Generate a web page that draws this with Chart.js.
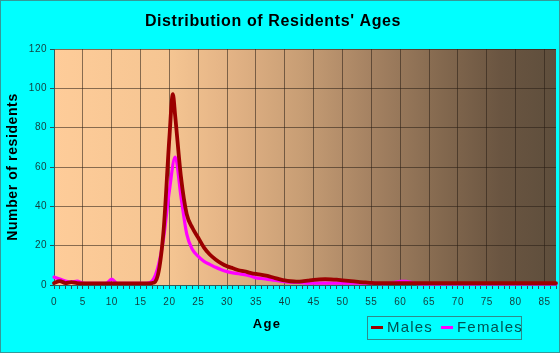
<!DOCTYPE html>
<html>
<head>
<meta charset="utf-8">
<script src="https://cdn.jsdelivr.net/npm/chart.js@4.4.1/dist/chart.umd.min.js"></script>
<style>
  html, body { margin: 0; padding: 0; background: #00ffff; }
  #c { display: block; }
</style>
</head>
<body>
<canvas id="c" width="560" height="353"></canvas>
<script>
// ages (male peak sits between 20 and 21)
const maleAges = [0, 1, 2, 3, 4, 5, 6, 7, 8, 9, 10, 11, 12, 13, 14, 15, 16, 17, 18, 19, 20, 20.6, 21, 22, 23, 24, 25, 26, 27, 28, 29,
  30, 31, 32, 33, 34, 35, 36, 37, 38, 39, 40, 41, 42, 43, 44, 45, 46, 47, 48, 49, 50, 51, 52, 53, 54, 55, 56, 57, 58, 59,
  60, 61, 62, 63, 64, 65, 66, 67, 68, 69, 70, 71, 72, 73, 74, 75, 76, 77, 78, 79, 80, 81, 82, 83, 84, 85, 86, 87];
const maleCounts = [1, 2, 1, 1.5, 1, 0.8, 0.8, 0.8, 0.8, 0.8, 0.8, 0.8, 0.8, 0.8, 0.8, 0.8, 0.8, 1, 5, 28, 75, 97, 86, 55, 36, 29, 24, 19, 15.5, 13, 11,
  9.5, 8.5, 7.5, 7, 6.2, 5.6, 5.2, 4.6, 3.8, 3, 2.3, 1.9, 1.7, 1.8, 2.2, 2.6, 2.9, 3, 2.9, 2.7, 2.4, 2.1, 1.8, 1.5, 1.3, 1.1, 1, 1, 1, 1,
  1, 1, 1, 1, 1, 1, 1, 1, 1, 1, 1, 1, 1, 1, 1, 1, 1, 1, 1, 1, 1, 1, 1, 1, 1, 1, 1, 1];

const femaleAges = [0, 1, 2, 3, 4, 5, 6, 7, 8, 9, 10, 11, 12, 13, 14, 15, 16, 17, 18, 19, 20, 21, 22, 23, 24, 25, 26, 27, 28, 29,
  30, 31, 32, 33, 34, 35, 36, 37, 38, 39, 40, 41, 42, 43, 44, 45, 46, 47, 48, 49, 50, 51, 52, 53, 54, 55, 56, 57, 58, 59,
  60, 61, 62, 63, 64, 65, 66, 67, 68, 69, 70, 71, 72, 73, 74, 75, 76, 77, 78, 79, 80, 81, 82, 83, 84, 85, 86, 87];
const femaleCounts = [4, 3, 2, 1.5, 2, 1, 0.8, 0.8, 0.8, 0.8, 3, 0.8, 0.8, 0.8, 0.8, 0.8, 0.8, 2, 9, 24, 48, 65, 45, 26, 18, 14.5, 12, 10.5, 9, 7.8,
  6.8, 6.2, 5.7, 5.3, 4.6, 3.6, 3.3, 2.9, 2.5, 2.1, 1.7, 1.4, 1.3, 1.2, 1, 1, 1, 1, 1, 1, 1, 1, 1, 1, 1, 1, 0.8, 0.7, 0.8, 1.2,
  1.8, 1.8, 1.2, 0.7, 0.5, 0.5, 0.5, 0.5, 0.5, 0.5, 0.5, 0.5, 0.5, 0.5, 0.5, 0.5, 0.5, 0.5, 0.5, 0.5, 0.5, 0.5, 0.5, 0.5, 0.5, 0.5, 0.5, 0.5];

const seriesNames = ['Males', 'Females'];
const seriesColors = ['#9c0000', '#ff00ff'];
const yTicks = [0, 20, 40, 60, 80, 100, 120];

const FONT = "Arial, 'Liberation Sans', sans-serif";
const tickText = '#143c3c';
const gridC = 'rgba(40, 30, 20, 0.55)';

// background, titles and the boxed legend
const frame = {
  id: 'frame',
  beforeDraw(chart) {
    const { ctx, chartArea: a, width, height } = chart;
    ctx.save();
    ctx.fillStyle = '#00ffff';
    ctx.fillRect(0, 0, width, height);
    const g = ctx.createLinearGradient(a.left, 0, a.right, 0);
    g.addColorStop(0, '#fecc99');
    g.addColorStop(0.23, '#f5c592');
    g.addColorStop(0.35, '#e3b385');
    g.addColorStop(0.49, '#c89e75');
    g.addColorStop(0.63, '#a58262');
    g.addColorStop(0.77, '#84694f');
    g.addColorStop(0.89, '#6a5541');
    g.addColorStop(1, '#5e4e3c');
    ctx.fillStyle = g;
    ctx.fillRect(a.left, a.top, a.right - a.left, a.bottom - a.top);
    ctx.restore();
    ctx.letterSpacing = '0.5px';
  },
  afterDraw(chart) {
    const { ctx, chartArea: a, width, height } = chart;
    ctx.save();
    ctx.fillStyle = '#000';
    ctx.textAlign = 'center';
    ctx.textBaseline = 'middle';

    ctx.letterSpacing = '0.6px';
    ctx.font = 'bold 16px ' + FONT;
    ctx.fillText("Distribution of Residents' Ages", 273, 22);

    ctx.letterSpacing = '1.3px';
    ctx.font = 'bold 13px ' + FONT;
    ctx.fillText('Age', 267, 324);

    ctx.save();
    ctx.translate(13, (a.top + a.bottom) / 2);
    ctx.rotate(-Math.PI / 2);
    ctx.letterSpacing = '0.6px';
    ctx.font = 'bold 14px ' + FONT;
    ctx.fillText('Number of residents', 0, 0);
    ctx.restore();

    // legend box
    ctx.strokeStyle = '#2e8b8b';
    ctx.lineWidth = 1;
    ctx.strokeRect(367.5, 316.5, 154, 23);
    const items = chart.data.datasets;
    const xs = [371, 441];
    ctx.textAlign = 'left';
    ctx.letterSpacing = '1.2px';
    ctx.font = '15px ' + FONT;
    items.forEach((ds, i) => {
      ctx.strokeStyle = ds.borderColor;
      ctx.lineWidth = 3;
      ctx.beginPath();
      ctx.moveTo(xs[i], 327.5);
      ctx.lineTo(xs[i] + 12, 327.5);
      ctx.stroke();
      ctx.fillStyle = '#005252';
      ctx.fillText(ds.label, xs[i] + 16, 328);
    });

    ctx.strokeStyle = '#339999';
    ctx.lineWidth = 1;
    ctx.strokeRect(0.5, 0.5, width - 1, height - 1);
    ctx.restore();
  }
};

new Chart(document.getElementById('c'), {
  type: 'line',
  data: {
    datasets: [
      {
        label: seriesNames[0],
        data: maleAges.map((a, i) => ({ x: a, y: maleCounts[i] })),
        borderColor: seriesColors[0],
        borderWidth: 3.8,
      },
      {
        label: seriesNames[1],
        data: femaleAges.map((a, i) => ({ x: a, y: femaleCounts[i] })),
        borderColor: seriesColors[1],
        borderWidth: 3.2,
      }
    ]
  },
  options: {
    responsive: false,
    animation: false,
    events: [],
    layout: { padding: { left: 0, top: 49, right: 4, bottom: 0 } },
    elements: {
      point: { radius: 0 },
      line: { cubicInterpolationMode: 'monotone', borderJoinStyle: 'round', borderCapStyle: 'round', fill: false }
    },
    datasets: { line: { clip: 4 } },
    plugins: {
      legend: { display: false },
      title: { display: false },
      tooltip: { enabled: false }
    },
    scales: {
      x: {
        type: 'linear',
        min: 0,
        max: 87,
        ticks: {
          stepSize: 1,
          autoSkip: false,
          maxRotation: 0,
          minRotation: 0,
          padding: 7,
          color: tickText,
          font: { family: FONT, size: 10 },
          callback: v => (v % 5 === 0 ? v : '')
        },
        grid: {
          color: c => (c.tick && c.tick.value % 5 === 0 && c.tick.value > 0 ? gridC : 'rgba(0,0,0,0)'),
          tickColor: '#2a5555',
          tickLength: 4
        },
        border: { color: '#2a6060' },
        afterFit(s) { s.height = 68; s.paddingLeft = 0; s.paddingRight = 0; }
      },
      y: {
        min: 0,
        max: 120,
        afterBuildTicks(s) { s.ticks = yTicks.map(v => ({ value: v })); },
        ticks: {
          padding: 3,
          color: tickText,
          font: { family: FONT, size: 10 }
        },
        grid: {
          color: c => (c.tick && c.tick.value > 0 ? gridC : 'rgba(0,0,0,0)'),
          tickColor: '#2a5555',
          tickLength: 4
        },
        border: { color: '#2a6060' },
        afterFit(s) { s.width = 54; }
      }
    }
  },
  plugins: [frame]
});
</script>
</body>
</html>
